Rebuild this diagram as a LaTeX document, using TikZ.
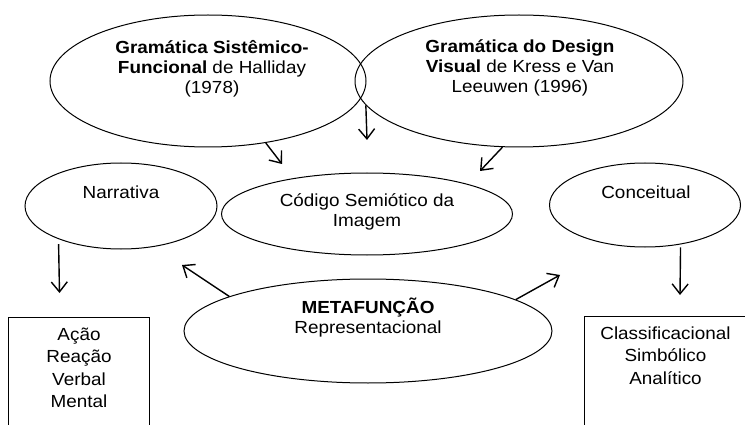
\documentclass[tikz,border=0pt]{standalone}
\usepackage{fontspec}
\setmainfont{Liberation Sans}[FakeStretch=1.08]
\usetikzlibrary{arrows.meta,positioning,shapes}
\tikzset{
ell_box/.style={
	% The shape:
	ellipse,
	% The border:
	draw=black,
	line width=1pt,
	% no padding, the size is set by hand
	inner sep=0pt
},
list_box/.style={
	rectangle,
	draw=black,
	line width=1pt,
	inner sep=0pt
},
ell_text/.style={
	align=center,
	inner sep=0pt,
	font=\fontsize{17.5}{20}\selectfont
},
list_text/.style={
	align=center,
	inner sep=0pt,
	font=\fontsize{17.5}{22.5}\selectfont
}
}

\begin{document}
\begin{tikzpicture}[x=1pt,y=-1pt,>={Straight Barb[length=10pt,width=16pt]},line width=1.4pt]
			\path[use as bounding box,clip] (0,0) rectangle (745,425);
			% the ellipses
			\node[ell_box,minimum width=316,minimum height=132] (gsf) at (208,81) {};
			\node[ell_box,minimum width=328,minimum height=132] (gdv) at (519,81) {};
			\node[ell_box,minimum width=192,minimum height=86] (narr) at (121,206) {};
			\node[ell_box,minimum width=291,minimum height=82] (csi) at (367,214) {};
			\node[ell_box,minimum width=191,minimum height=84] (conc) at (645,205) {};
			\node[ell_box,minimum width=368,minimum height=104] (meta) at (368,331) {};
			% the lists
			\node[list_box,minimum width=141,minimum height=130,anchor=north west] (acao) at (8,317) {};
			\node[list_box,minimum width=162,minimum height=130,anchor=north west] (clas) at (584,316) {};

			% the texts
			\node[ell_text] (gsf_t) at ([xshift=4pt,yshift=12pt]gsf.center) {\textbf{Gramática Sistêmico-}\\\textbf{Funcional} de Halliday\\(1978)};
			\node[ell_text] (gdv_t) at ([xshift=1pt,yshift=13pt]gdv.center) {\textbf{Gramática do Design}\\\textbf{Visual} de Kress e Van\\Leeuwen (1996)};
			\node[ell_text] (narr_t) at ([yshift=14pt]narr.center) {Narrativa};
			\node[ell_text] (csi_t) at ([yshift=2.5pt]csi.center) {Código Semiótico da\\Imagem};
			\node[ell_text] (conc_t) at ([xshift=1pt,yshift=13pt]conc.center) {Conceitual};
			\node[ell_text] (meta_t) at ([yshift=13pt]meta.center) {\textbf{METAFUNÇÃO}\\Representacional};
			\node[list_text,below=10pt of acao.north] (acao_t) {Ação\\Reação\\Verbal\\Mental};
			\node[list_text,below=10pt of clas.north] (clas_t) {Classificacional\\Simbólico\\Analítico};

			% arrow tips
			\coordinate (tip1) at (282,164);
			\coordinate (tip2) at (367,140);
			\coordinate (tip3) at (480,171);
			\coordinate (tip4) at (59.5,293);
			\coordinate (tip5) at (182,265);
			\coordinate (tip6) at (560,275);
			\coordinate (tip7) at (680,295);

			\path[->]	(gsf.-47) edge (tip1)
				(gdv.189) edge (tip2)
				(gdv.-104) edge (tip3)
				([yshift=-5pt]narr.208) edge (tip4)
				(meta.166) edge (tip5)
				(meta.12) edge (tip6)
				([yshift=-3pt]conc.-48) edge (tip7);
		\end{tikzpicture}
\end{document}
